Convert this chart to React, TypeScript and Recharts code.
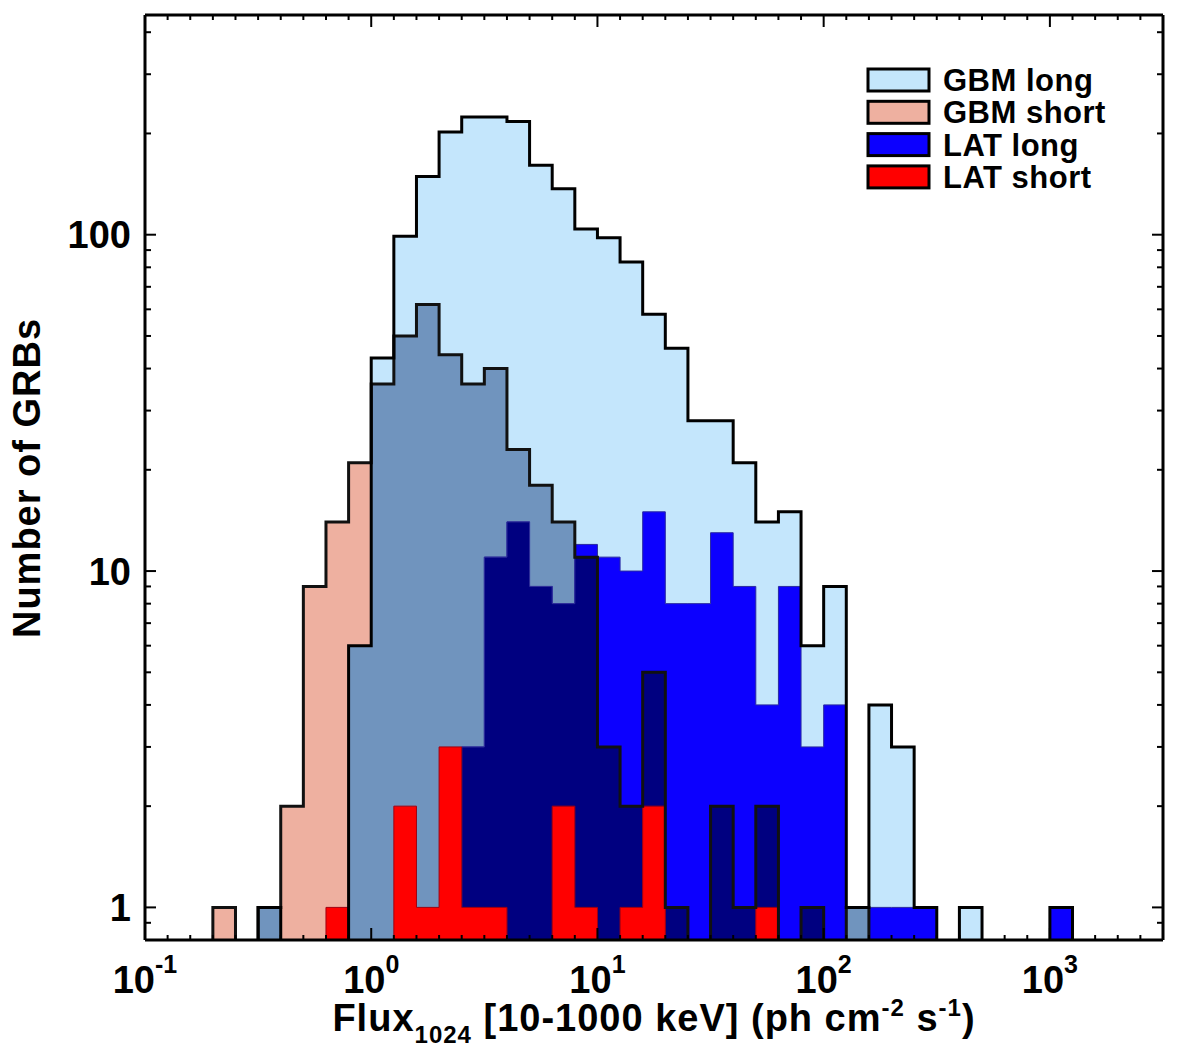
import React from 'react';
import { ComposedChart, Area, Line, XAxis, YAxis, Legend } from 'recharts';

// histogram bins are 0.1 dex wide, first bin starts at 10^-0.7
const BIN_START = -0.7;
const BIN_WIDTH = 0.1;

const gbmLong = [0, 0, 1, 0, 0, 0, 6, 43, 99, 149, 202, 224, 224, 217, 161, 137, 104, 98, 83, 58, 46, 28, 28, 21, 14, 15, 6, 9, 1, 4, 3, 1, 0, 1, 0, 0, 0, 1];
const gbmShort = [1, 0, 1, 2, 9, 14, 21, 36, 50, 62, 44, 36, 40, 23, 18, 14, 11, 3, 2, 5, 1, 0, 2, 1, 2, 0, 1, 0, 1, 0, 0, 0, 0, 0, 0, 0, 0, 0];
const latLong = [0, 0, 0, 0, 0, 0, 0, 0, 0, 0, 0, 3, 11, 14, 9, 8, 12, 11, 10, 15, 8, 8, 13, 9, 4, 9, 3, 4, 0, 1, 1, 1, 0, 0, 0, 0, 0, 1];
const latShort = [0, 0, 0, 0, 0, 1, 0, 0, 2, 1, 3, 1, 1, 0, 0, 2, 1, 0, 1, 2, 0, 0, 0, 0, 1, 0, 0, 0, 0, 0, 0, 0, 0, 0, 0, 0, 0, 0];

const xMajorTicks = [0.1, 1, 10, 100, 1000];
const yMajorTicks = [1, 10, 100];
const yMinorTicks = [0.9, 2, 3, 4, 5, 6, 7, 8, 9, 20, 30, 40, 50, 60, 70, 80, 90, 200, 300, 400];

const legendItems = [
  { label: 'GBM long', color: '#c4e6fc' },
  { label: 'GBM short', color: '#eeb0a0' },
  { label: 'LAT long', color: '#0c00ff' },
  { label: 'LAT short', color: '#ff0000' },
];

const X_DOMAIN = [0.1, 3162.28];
const Y_DOMAIN = [0.8, 450];
const EMPTY = 0.1; // empty bins sit below the axis and get clipped

const PLOT = { left: 145, right: 1163, top: 15, bottom: 940 };
const FONT = '"Liberation Sans", Arial, Helvetica, sans-serif';

// minor x ticks every 0.1 dex, like the original axis
const xTicks: number[] = [];
for (let k = -10; k <= 35; k++) xTicks.push(Math.pow(10, k / 10));
const yTicks = [...yMajorTicks, ...yMinorTicks].sort((a, b) => a - b);

const lift = (v: number) => (v > 0 ? v : EMPTY);

// one row per bin edge, plus a closing zero row on each side
const rows: any[] = [];
for (let k = -1; k <= gbmLong.length; k++) {
  const pick = (arr: number[]) => (k >= 0 && k < arr.length ? arr[k] : 0);
  const gl = pick(gbmLong);
  const gs = pick(gbmShort);
  const ll = pick(latLong);
  const ls = pick(latShort);
  rows.push({
    flux: Math.pow(10, BIN_START + BIN_WIDTH * k),
    gbmLong: lift(gl),
    gbmShort: lift(gs),
    gbmBoth: lift(Math.min(gl, gs)),
    latLong: lift(ll),
    latOnShort: lift(Math.min(ll, gs)),
    latShort: lift(ls),
  });
}

const isDecade = (v: number) => Math.abs(Math.log10(v) - Math.round(Math.log10(v))) < 1e-6;

const BottomTick = (props: any) => {
  const x = props.payload?.coordinate ?? props.x;
  const v = props.payload.value;
  const major = isDecade(v);
  return (
    <g>
      <line x1={x} x2={x} y1={PLOT.bottom} y2={PLOT.bottom - (major ? 12 : 5)} stroke="#000" strokeWidth={2} />
      {major && (
        <text x={x} y={993} textAnchor="middle" fontFamily={FONT} fontWeight="bold" fontSize={38} fill="#000">
          10<tspan dy={-20} fontSize={25}>{Math.round(Math.log10(v))}</tspan>
        </text>
      )}
    </g>
  );
};

const TopTick = (props: any) => {
  const x = props.payload?.coordinate ?? props.x;
  const major = isDecade(props.payload.value);
  return <line x1={x} x2={x} y1={PLOT.top} y2={PLOT.top + (major ? 12 : 5)} stroke="#000" strokeWidth={2} />;
};

const LeftTick = (props: any) => {
  const y = props.payload?.coordinate ?? props.y;
  const v = props.payload.value;
  const major = yMajorTicks.includes(v);
  return (
    <g>
      <line x1={PLOT.left} x2={PLOT.left + (major ? 11 : 6)} y1={y} y2={y} stroke="#000" strokeWidth={2} />
      {major && (
        <text x={131} y={y + 13.5} textAnchor="end" fontFamily={FONT} fontWeight="bold" fontSize={38} fill="#000">
          {v}
        </text>
      )}
    </g>
  );
};

const RightTick = (props: any) => {
  const y = props.payload?.coordinate ?? props.y;
  const major = yMajorTicks.includes(props.payload.value);
  return <line x1={PLOT.right} x2={PLOT.right - (major ? 11 : 6)} y1={y} y2={y} stroke="#000" strokeWidth={2} />;
};

const XTitle = () => (
  <text
    x={(PLOT.left + PLOT.right) / 2}
    y={1031}
    textAnchor="middle"
    fontFamily={FONT}
    fontWeight="bold"
    fontSize={38}
    letterSpacing={1}
    fill="#000"
  >
    Flux
    <tspan dy={12} fontSize={24}>1024</tspan>
    <tspan dy={-12}> [10-1000 keV] (ph cm</tspan>
    <tspan dy={-15} fontSize={24}>-2</tspan>
    <tspan dy={15}> s</tspan>
    <tspan dy={-15} fontSize={24}>-1</tspan>
    <tspan dy={15}>)</tspan>
  </text>
);

const YTitle = () => (
  <text
    x={40}
    y={478}
    transform="rotate(-90 40 478)"
    textAnchor="middle"
    fontFamily={FONT}
    fontWeight="bold"
    fontSize={38}
    letterSpacing={1}
    fill="#000"
  >
    Number of GRBs
  </text>
);

const LegendBox = () => (
  <svg width={300} height={140} style={{ overflow: 'visible' }}>
    {legendItems.map((item, i) => (
      <g key={item.label}>
        <rect x={3} y={5 + i * 32.3} width={61} height={22} fill={item.color} stroke="#000" strokeWidth={3} />
        <text x={78} y={27 + i * 32.3} fontFamily={FONT} fontWeight="bold" fontSize={31} letterSpacing={0.5} fill="#000">
          {item.label}
        </text>
      </g>
    ))}
  </svg>
);

const App = () => {
  const common = { xAxisId: 'b', yAxisId: 'l', type: 'stepAfter' as const, isAnimationActive: false };
  return (
    <div style={{ position: 'absolute', left: 0, top: 0, width: 1179, height: 1047, background: '#fff' }}>
      <ComposedChart width={1179} height={1047} data={rows} margin={{ top: 0, right: 0, bottom: 0, left: 0 }}>
        <XAxis
          xAxisId="b"
          dataKey="flux"
          type="number"
          scale="log"
          domain={X_DOMAIN}
          allowDataOverflow
          ticks={xTicks}
          interval={0}
          height={107}
          axisLine={{ stroke: '#000', strokeWidth: 3 }}
          tickLine={false}
          tick={(p: any) => <BottomTick {...p} />}
          label={{ content: () => <XTitle /> }}
        />
        <XAxis
          xAxisId="t"
          orientation="top"
          dataKey="flux"
          type="number"
          scale="log"
          domain={X_DOMAIN}
          allowDataOverflow
          ticks={xTicks}
          interval={0}
          height={15}
          axisLine={{ stroke: '#000', strokeWidth: 3 }}
          tickLine={false}
          tick={(p: any) => <TopTick {...p} />}
        />
        <YAxis
          yAxisId="l"
          type="number"
          scale="log"
          domain={Y_DOMAIN}
          allowDataOverflow
          ticks={yTicks}
          interval={0}
          width={145}
          axisLine={{ stroke: '#000', strokeWidth: 3 }}
          tickLine={false}
          tick={(p: any) => <LeftTick {...p} />}
          label={{ content: () => <YTitle /> }}
        />
        <YAxis
          yAxisId="r"
          orientation="right"
          type="number"
          scale="log"
          domain={Y_DOMAIN}
          allowDataOverflow
          ticks={yTicks}
          interval={0}
          width={16}
          axisLine={{ stroke: '#000', strokeWidth: 3 }}
          tickLine={false}
          tick={(p: any) => <RightTick {...p} />}
        />

        <Area {...common} dataKey="gbmLong" fill="#c4e6fc" fillOpacity={1} stroke="none" />
        <Area {...common} dataKey="gbmShort" fill="#eeb0a0" fillOpacity={1} stroke="none" />
        <Area {...common} dataKey="gbmBoth" fill="#7094be" fillOpacity={1} stroke="none" />
        <Area {...common} dataKey="latLong" fill="#0c00ff" fillOpacity={1} stroke="#2a2aa0" strokeWidth={1} />
        <Area {...common} dataKey="latOnShort" fill="#000080" fillOpacity={1} stroke="#30309a" strokeWidth={1} />
        <Area {...common} dataKey="latShort" fill="#ff0000" fillOpacity={1} stroke="#a00010" strokeWidth={1} />
        <Line {...common} dataKey="gbmShort" stroke="#111" strokeWidth={3} dot={false} activeDot={false} />
        <Line {...common} dataKey="gbmLong" stroke="#000" strokeWidth={3} dot={false} activeDot={false} />

        <Legend
          layout="vertical"
          align="center"
          verticalAlign="middle"
          wrapperStyle={{ position: 'absolute', left: 865, top: 64, width: 300, height: 140 }}
          content={() => <LegendBox />}
        />
      </ComposedChart>
    </div>
  );
};

export default App;
